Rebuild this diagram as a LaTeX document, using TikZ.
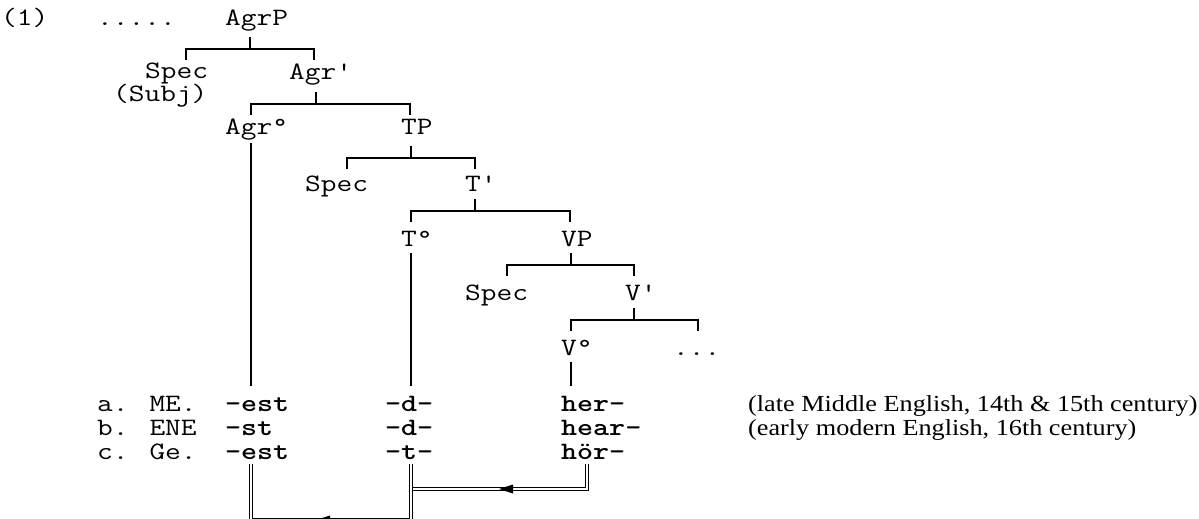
\documentclass[tikz,border=0pt]{standalone}
\usepackage{fontspec}
\usepackage{graphicx}
\newfontfamily\glossfont{Liberation Serif}
% monospaced labels are widened to a 16pt character grid
\newcommand\sx[1]{\scalebox{1.22}[1]{#1}}
\newcommand\gx[1]{\scalebox{1.14}[1]{#1}}
\begin{document}
\begin{tikzpicture}[x=1pt,y=-1pt,
  lab/.style={inner sep=0pt, anchor=base west, font=\fontsize{25}{29}\selectfont\ttfamily},
  gloss/.style={inner sep=0pt, anchor=base west, font=\fontsize{23}{27}\selectfont\glossfont},
  tree/.style={line width=1.6pt},
  dbl/.style={double, double distance=2.6pt, line width=1.1pt},
  tip/.style={fill=black}]
\useasboundingbox (0,0) rectangle (1199,519);

% tree labels
\node[lab] (n1)     at (1,26)   {\sx{(1)}};
\node[lab] (dots)   at (97,26)  {\sx{.....}};
\node[lab] (agrp)   at (225,26) {\sx{AgrP}};
\node[lab] (specA)  at (145,78) {\sx{Spec}};
\node[lab] (agrbar) at (289,79) {\sx{Agr\textquotesingle}};
\node[lab] (subj)   at (113,101) {\sx{(Subj)}};
\node[lab] (agr0)   at (225,134) {\sx{Agr°}};
\node[lab] (tp)     at (401,134) {\sx{TP}};
\node[lab] (specT)  at (305,191) {\sx{Spec}};
\node[lab] (tbar)   at (465,191) {\sx{T\textquotesingle}};
\node[lab] (t0)     at (401,246) {\sx{T°}};
\node[lab] (vp)     at (561,246) {\sx{VP}};
\node[lab] (specV)  at (465,300) {\sx{Spec}};
\node[lab] (vbar)   at (625,300) {\sx{V\textquotesingle}};
\node[lab] (v0)     at (561,355) {\sx{V°}};
\node[lab] (vdots)  at (673,355) {\sx{...}};

% branches: up-tick, bar, down-ticks
\newcommand\branch[5]{%
  \draw[tree] (#1,#2) -- (#1,#3);
  \draw[tree] (#4,#3+11) -- (#4,#3) -- (#5,#3) -- (#5,#3+11);}
\branch{250}{37}{49}{186}{314}
\branch{316}{92}{104}{251}{410}
\branch{411}{146}{158}{347}{475}
\branch{475}{199}{211}{411}{570}
\branch{571}{253}{265}{507}{634}
\branch{634}{308}{320}{571}{698}

% heads down to the forms
\draw[tree] (251,143) -- (251,386);
\draw[tree] (411,253) -- (411,386);
\draw[tree] (571,362) -- (571,386);

% forms
\node[lab] (la) at (97,411)  {\sx{a. ME.}};
\node[lab] (ea) at (225,411) {\sx{\bfseries -est}};
\node[lab] (da) at (385,411) {\sx{\bfseries -d-}};
\node[lab] (ha) at (561,411) {\sx{\bfseries her-}};
\node[gloss] (ga) at (748,411) {\gx{(late Middle English, 14th \& 15th century)}};

\node[lab] (lb) at (97,435)  {\sx{b. ENE}};
\node[lab] (eb) at (225,435) {\sx{\bfseries -st}};
\node[lab] (db) at (385,435) {\sx{\bfseries -d-}};
\node[lab] (hb) at (561,435) {\sx{\bfseries hear-}};
\node[gloss] (gb) at (748,435) {\gx{(early modern English, 16th century)}};

\node[lab] (lc) at (97,459)  {\sx{c. Ge.}};
\node[lab] (ec) at (225,459) {\sx{\bfseries -est}};
\node[lab] (dc) at (385,459) {\sx{\bfseries -t-}};
\node[lab] (hc) at (561,459) {\sx{\bfseries hör-}};

% movement paths
\draw[dbl] (587,464) -- (587,489) -- (413,489);
\draw[dbl] (411,464) -- (411,520) -- (251,520) -- (251,464);
\fill[tip] (499,489) -- (513,484.5) -- (513,493.5) -- cycle;
\fill[tip] (316,520) -- (330,515.5) -- (330,524.5) -- cycle;
\end{tikzpicture}
\end{document}
